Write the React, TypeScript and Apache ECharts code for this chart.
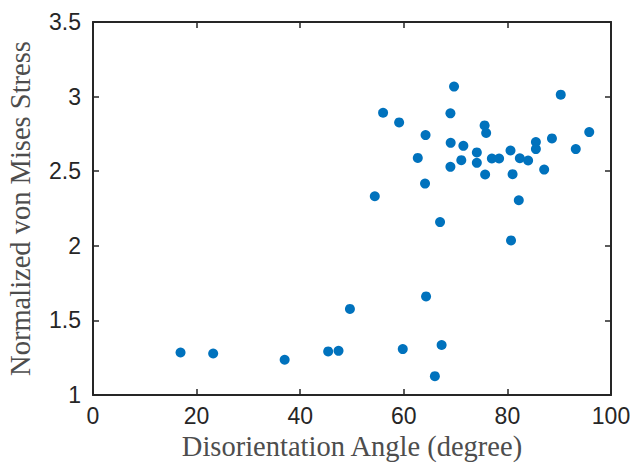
import React, { useEffect, useRef } from "react";
import * as echarts from "echarts";

const angles = [
  16.9, 23.2, 37.0, 45.4, 47.4, 49.6, 59.8, 64.3, 67.3, 66.0,
  56.0, 59.1, 64.2, 62.7, 64.1, 54.4, 67.0, 69.7, 69.0, 69.05,
  69.0, 71.5, 71.1, 74.1, 74.1, 75.6, 75.9, 75.7, 77.0, 78.4,
  80.6, 81.0, 82.4, 84.0, 82.2, 80.7, 85.5, 85.5, 87.1, 88.6,
  90.3, 93.2, 95.8,
];
const stresses = [
  1.285, 1.278, 1.236, 1.292, 1.296, 1.577, 1.308, 1.661, 1.335, 1.126,
  2.892, 2.827, 2.742, 2.589, 2.417, 2.332, 2.159, 3.067, 2.888, 2.69,
  2.529, 2.67, 2.574, 2.626, 2.556, 2.807, 2.756, 2.478, 2.585, 2.585,
  2.639, 2.48, 2.587, 2.572, 2.305, 2.036, 2.695, 2.648, 2.511, 2.72,
  3.013, 2.648, 2.762,
];
const xTicks = [0, 20, 40, 60, 80, 100];
const yTicks = [1, 1.5, 2, 2.5, 3, 3.5];

export default function App() {
  const ref = useRef<HTMLDivElement>(null);
  useEffect(() => {
    if (!ref.current) return;
    const chart = echarts.init(ref.current, undefined, { renderer: "svg" });
    const lineStyle = { color: "#262626", width: 2 };
    const tick = { show: true, inside: true, length: 6, lineStyle: { color: "#262626", width: 1.5 } };
    const labelStyle = { fontFamily: "Liberation Sans", fontSize: 23, color: "#262626" };
    const titleStyle = { fontFamily: "Liberation Serif", fontSize: 28.5, color: "#4d4d4d" };
    const xBase = {
      type: "value" as const,
      min: xTicks[0],
      max: xTicks[xTicks.length - 1],
      interval: xTicks[1] - xTicks[0],
      axisLine: { show: true, onZero: false, lineStyle },
      axisTick: tick,
      splitLine: { show: false },
    };
    const yBase = {
      type: "value" as const,
      min: yTicks[0],
      max: yTicks[yTicks.length - 1],
      interval: yTicks[1] - yTicks[0],
      axisLine: { show: true, onZero: false, lineStyle },
      axisTick: tick,
      splitLine: { show: false },
    };
    chart.setOption({
      animation: false,
      backgroundColor: "#ffffff",
      grid: { left: 93, right: 19, top: 22, bottom: 70, containLabel: false, outerBoundsMode: "none" },
      xAxis: [
        {
          ...xBase,
          position: "bottom",
          axisLabel: { ...labelStyle, margin: 9 },
          name: "Disorientation Angle (degree)",
          nameLocation: "middle",
          nameGap: 37,
          nameTextStyle: titleStyle,
        },
        { ...xBase, position: "top", axisLabel: { show: false } },
      ],
      yAxis: [
        {
          ...yBase,
          position: "left",
          axisLabel: { ...labelStyle, margin: 12 },
          name: "Normalized von Mises Stress",
          nameLocation: "middle",
          nameGap: 58,
          nameTextStyle: titleStyle,
        },
        { ...yBase, position: "right", axisLabel: { show: false } },
      ],
      series: [
        {
          type: "scatter",
          xAxisIndex: 0,
          yAxisIndex: 0,
          symbol: "circle",
          symbolSize: 10,
          itemStyle: { color: "#0072BD", opacity: 1 },
          data: angles.map((a, i) => [a, stresses[i]]),
        },
      ],
    });
    return () => chart.dispose();
  }, []);
  return (
    <div
      ref={ref}
      style={{ position: "fixed", left: 0, top: 0, width: 630, height: 465 }}
    />
  );
}
